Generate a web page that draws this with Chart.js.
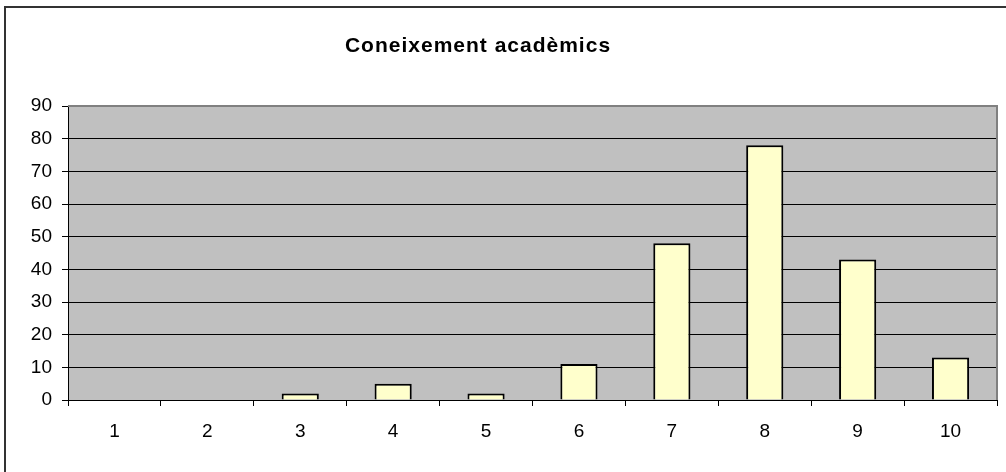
<!DOCTYPE html>
<html>
<head>
<meta charset="utf-8">
<script src="https://cdn.jsdelivr.net/npm/chart.js@4/dist/chart.umd.min.js"></script>
<style>
  html, body { margin: 0; padding: 0; background: #ffffff; }
  #wrap { width: 1006px; height: 472px; position: relative; }
</style>
</head>
<body>
<div id="wrap"><canvas id="chart"></canvas></div>
<script>
// dati
const titleText = 'Coneixement acadèmics';
const categories = ['1', '2', '3', '4', '5', '6', '7', '8', '9', '10'];
const values = [0, 0, 2, 5, 2, 11, 48, 78, 43, 13];
const yMax = 90;
const yStep = 10;

// sfondo grigio, bordi del riquadro e cornice esterna
const frame = {
  id: 'frame',
  beforeDraw(chart) {
    const { ctx, chartArea: a } = chart;
    ctx.save();
    ctx.fillStyle = '#c0c0c0';
    ctx.fillRect(a.left, a.top, a.right - a.left, a.bottom - a.top);
    ctx.restore();
  },
  afterDraw(chart) {
    const { ctx, chartArea: a } = chart;
    ctx.save();
    // bordo alto e destro grigio
    ctx.strokeStyle = '#808080';
    ctx.lineWidth = 2;
    ctx.beginPath();
    ctx.moveTo(a.left, a.top);
    ctx.lineTo(a.right, a.top);
    ctx.lineTo(a.right, a.bottom);
    ctx.stroke();
    // cornice esterna
    ctx.strokeStyle = '#333333';
    ctx.lineWidth = 2;
    ctx.strokeRect(5, 7, 1100, 600);
    // titolo
    ctx.fillStyle = '#000000';
    ctx.font = 'bold 21px "Liberation Sans", Arial, sans-serif';
    ctx.letterSpacing = '1px';
    ctx.textAlign = 'center';
    ctx.textBaseline = 'alphabetic';
    ctx.fillText(titleText, 478, 52);
    ctx.restore();
  }
};

new Chart(document.getElementById('chart'), {
  type: 'bar',
  data: {
    labels: categories,
    datasets: [{
      data: values,
      backgroundColor: '#ffffcc',
      borderColor: '#000000',
      borderWidth: 2,
      borderSkipped: 'bottom',
      barPercentage: 0.4,
      categoryPercentage: 1.0
    }]
  },
  options: {
    responsive: true,
    maintainAspectRatio: false,
    animation: false,
    layout: { padding: { left: 0, right: 9, top: 106, bottom: 0 } },
    plugins: {
      legend: { display: false },
      tooltip: { enabled: false }
    },
    scales: {
      x: {
        grid: {
          offset: true,
          drawOnChartArea: false,
          color: '#000000',
          tickLength: 6
        },
        border: { color: '#000000', width: 1 },
        ticks: {
          color: '#000000',
          padding: 14,
          font: { family: '"Liberation Sans", Arial, sans-serif', size: 19 }
        },
        afterFit(scale) { scale.height = 72; }
      },
      y: {
        min: 0,
        max: yMax,
        grid: {
          color: (c) => c.tick && c.tick.value === yMax ? 'rgba(0,0,0,0)' : '#000000',
          tickColor: '#000000',
          tickLength: 6
        },
        border: { color: '#000000', width: 1 },
        ticks: {
          stepSize: yStep,
          color: '#000000',
          padding: 10,
          font: { family: '"Liberation Sans", Arial, sans-serif', size: 19 }
        },
        afterFit(scale) { scale.width = 68; }
      }
    }
  },
  plugins: [frame]
});
</script>
</body>
</html>
